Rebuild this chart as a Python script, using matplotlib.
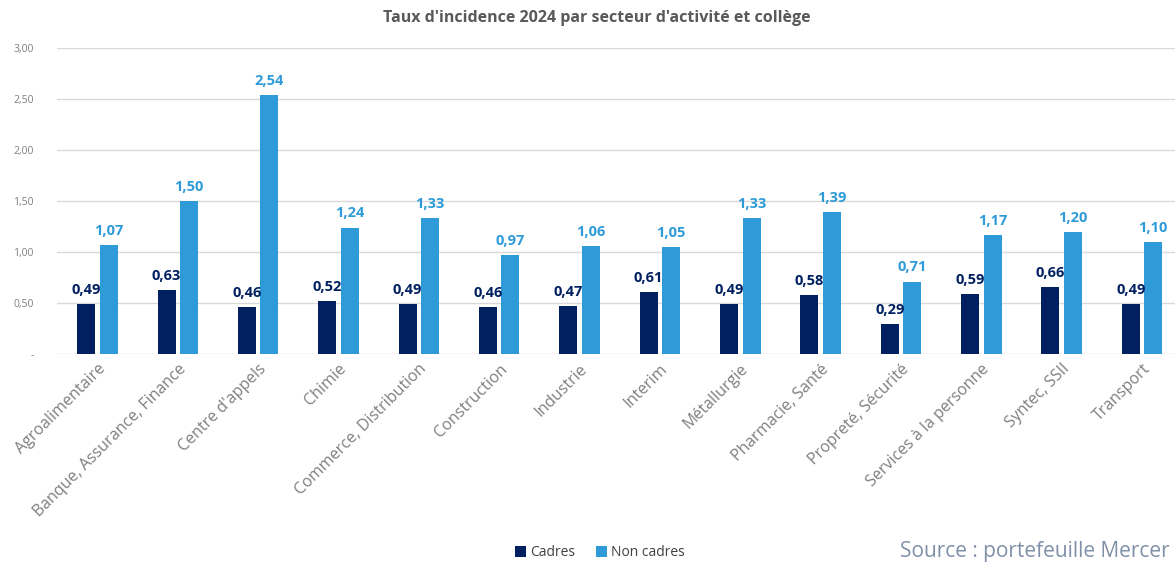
import numpy as np
import matplotlib.pyplot as plt

plt.rcParams['font.family'] = ['Open Sans', 'DejaVu Sans']

# Data
secteurs = ['Agroalimentaire', 'Banque, Assurance, Finance', "Centre d'appels", 'Chimie',
            'Commerce, Distribution', 'Construction', 'Industrie', 'Interim', 'Métallurgie',
            'Pharmacie, Santé', 'Propreté, Sécurité', 'Services à la personne', 'Syntec, SSII',
            'Transport']
cadres = [0.49, 0.63, 0.46, 0.52, 0.49, 0.46, 0.47, 0.61, 0.49, 0.58, 0.29, 0.59, 0.66, 0.49]
non_cadres = [1.07, 1.50, 2.54, 1.24, 1.33, 0.97, 1.06, 1.05, 1.33, 1.39, 0.71, 1.17, 1.20, 1.10]
y_ticks = [0, 0.5, 1.0, 1.5, 2.0, 2.5, 3.0]
y_tick_labels = ['-', '0,50', '1,00', '1,50', '2,00', '2,50', '3,00']

col_cadres = '#002060'
col_non = '#2E9BD8'
grey = '#7F7F7F'

fig = plt.figure(figsize=(11.75, 5.62), dpi=100)
ax = fig.add_axes([57.3 / 1175, 0.370, 14 * 80.35 / 1175, 0.5445])

x = np.arange(len(secteurs))
w = 0.224
off = 0.14
b1 = ax.bar(x - off, cadres, w, color=col_cadres, label='Cadres', zorder=3)
b2 = ax.bar(x + off, non_cadres, w, color=col_non, label='Non cadres', zorder=3)

for rect, v in zip(b1, cadres):
    ax.text(rect.get_x() + rect.get_width() / 2, v + 0.07, f'{v:.2f}'.replace('.', ','),
            ha='center', va='bottom', fontsize=10.5, fontweight='bold', color=col_cadres)
for rect, v in zip(b2, non_cadres):
    ax.text(rect.get_x() + rect.get_width() / 2, v + 0.07, f'{v:.2f}'.replace('.', ','),
            ha='center', va='bottom', fontsize=10.5, fontweight='bold', color=col_non)

ax.set_xlim(-0.5, len(secteurs) - 0.5)
ax.set_ylim(0, 3.0)
ax.set_yticks(y_ticks)
ax.set_yticklabels(y_tick_labels, fontsize=7.5, color=grey)
ax.yaxis.grid(True, color='#D9D9D9', linewidth=1, zorder=0)
ax.set_axisbelow(True)
ax.tick_params(axis='y', length=0, pad=17)
ax.tick_params(axis='x', length=0, pad=5)
ax.set_xticks(x)
ax.set_xticklabels(secteurs, rotation=45, ha='right', rotation_mode='anchor',
                   fontsize=11.5, color=grey)
for s in ax.spines.values():
    s.set_visible(False)

fig.text(597 / 1175, 1 - 18 / 562, "Taux d'incidence 2024 par secteur d'activité et collège",
         ha='center', va='center', fontsize=11.5, fontweight='bold', color='#595959')

fig.legend(handles=[b1, b2], loc='center', bbox_to_anchor=(600 / 1175, 1 - 553 / 562),
           ncol=2, frameon=False, fontsize=10, handlelength=0.8, handleheight=0.8,
           handletextpad=0.3, columnspacing=1.5, labelcolor='#404040')

fig.text(900 / 1175, 1 - 552 / 562, 'Source : portefeuille Mercer', ha='left', va='center',
         fontsize=15, color='#8090A8')

fig.savefig('out.png', dpi=100)
